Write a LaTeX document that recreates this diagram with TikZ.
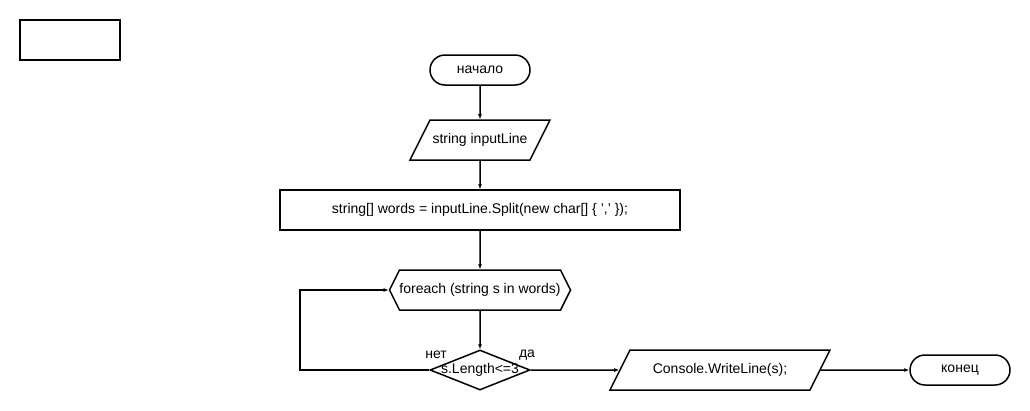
\documentclass[tikz,border=0pt]{standalone}
\usepackage{fontspec}
\setmainfont{Liberation Sans}
\usetikzlibrary{shapes.geometric,shapes.misc,shapes.symbols,arrows.meta}

\begin{document}
\begin{tikzpicture}[
    x=1pt, y=-1pt,
    font=\fontsize{14}{16}\selectfont,
    >={Latex[length=5pt,width=4pt]},
    line width=1.5pt,
    terminal/.style={draw, rounded rectangle, minimum width=100pt, minimum height=30pt, inner sep=0pt},
    datos/.style={draw, trapezium, trapezium left angle=63.43, trapezium right angle=116.57,
      trapezium stretches body, text height=10pt, text depth=3pt,
      inner xsep=0pt, inner ysep=13.5pt},
    proceso/.style={draw, rectangle, minimum width=400pt, minimum height=40pt, inner sep=0pt},
    ciclo/.style={draw, signal, signal to=east and west, signal pointer angle=126.87,
      minimum width=180pt, minimum height=40pt, inner sep=0pt},
    decision/.style={draw, diamond, minimum width=100pt, minimum height=40pt, inner sep=0pt}
  ]

    % --- Marco del dibujo ---
    \useasboundingbox (0,0) rectangle (1030,410);

    % Rectángulo vacío arriba a la izquierda
    \node[draw, rectangle, minimum width=100pt, minimum height=40pt] (vacio) at (70,40) {};

    % --- Bloques del diagrama ---
    \node[terminal] (inicio) at (480,70) {начало};
    \node[datos, minimum width=140pt] (entrada) at (480,140) {string inputLine};
    \node[proceso] (split) at (480,210) {string[] words = inputLine.Split(new char[] \{ ',' \});};
    \node[ciclo] (bucle) at (480,290) {foreach (string s in words)};
    \node[decision] (cond) at (480,370) {};
    \node (condtexto) at (cond) {s.Length<=3};
    \node[datos, minimum width=220pt] (salida) at (720,370) {Console.WriteLine(s);};
    \node[terminal] (fin) at (960,370) {конец};

    % Etiquetas de las ramas
    \node (no) at (436,355) {нет};
    \node (si) at (527,355) {да};

    % --- Conexiones ---
    \coordinate (retorno) at (300,370);
    \draw[->] (inicio) -- (entrada);
    \draw[->] (entrada) -- (split);
    \draw[->] (split) -- (bucle);
    \draw[->] (bucle) -- (cond);
    \draw[->] (cond.east) -- (salida.west);
    \draw[->] (salida.east) -- (fin.west);
    \draw[->] (cond.west) -- (retorno) |- (bucle.west);

  \end{tikzpicture}
\end{document}
